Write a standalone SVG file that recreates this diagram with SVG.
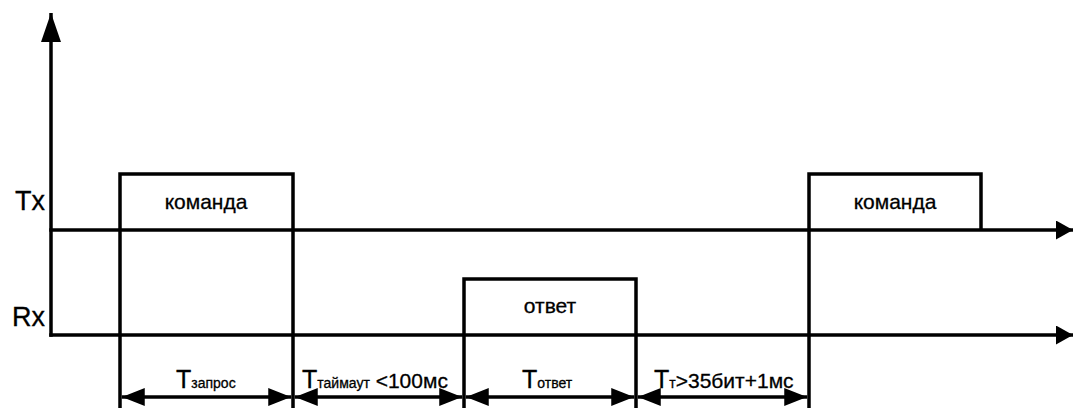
<svg xmlns="http://www.w3.org/2000/svg" width="1073" height="408" viewBox="0 0 1073 408">
  <style>
    .ln { fill: none; stroke: #000; stroke-width: 3.5; stroke-linejoin: miter; stroke-linecap: butt; }
    .t { font-family: "Liberation Sans", Arial, sans-serif; fill: #000; stroke: #000; stroke-width: 0.3; }
    .lbl { font-size: 21px; }
    .axl { font-size: 27px; }
    .big { font-size: 25px; }
    .sub { font-size: 14px; }
  </style>
  <defs>
    <marker id="axArrowV" viewBox="0 0 29 20" refX="29" refY="10" markerWidth="29" markerHeight="20" markerUnits="userSpaceOnUse" orient="auto">
      <path d="M0,0 L29,10 L0,20 Z" fill="#000"/>
    </marker>
    <marker id="axArrowH" viewBox="0 0 17 19" refX="17" refY="9.5" markerWidth="17" markerHeight="19" markerUnits="userSpaceOnUse" orient="auto">
      <path d="M0,0 L17,9.5 L0,19 Z" fill="#000"/>
    </marker>
    <marker id="dimArrow" viewBox="0 0 23 18" refX="23" refY="9" markerWidth="23" markerHeight="18" markerUnits="userSpaceOnUse" orient="auto-start-reverse">
      <path d="M0,0 L23,9 L0,18 Z" fill="#000"/>
    </marker>
  </defs>
  <rect width="1073" height="408" fill="#fff"/>

  <g id="axes">
    <line class="ln" x1="51" y1="336.75" x2="51" y2="13" marker-end="url(#axArrowV)"/>
    <line class="ln" x1="49.25" y1="230" x2="1073" y2="230" marker-end="url(#axArrowH)"/>
    <line class="ln" x1="49.25" y1="335" x2="1073" y2="335" marker-end="url(#axArrowH)"/>
    <text class="t axl" x="45" y="210" text-anchor="end">Tx</text>
    <text class="t axl" x="45" y="326" text-anchor="end">Rx</text>
  </g>

  <g id="tx-command-1">
    <polyline class="ln" points="120,408 120,174 293,174 293,408"/>
    <text class="t lbl" x="206" y="209" text-anchor="middle">команда</text>
  </g>

  <g id="rx-response">
    <polyline class="ln" points="464,408 464,279 636,279 636,408"/>
    <text class="t lbl" x="550" y="313" text-anchor="middle">ответ</text>
  </g>

  <g id="tx-command-2">
    <polyline class="ln" points="809,408 809,174 981,174 981,230"/>
    <text class="t lbl" x="895" y="209" text-anchor="middle">команда</text>
  </g>

  <g id="connectors">
    <line class="ln" x1="121.75" y1="397" x2="291.25" y2="397" marker-start="url(#dimArrow)" marker-end="url(#dimArrow)"/>
    <line class="ln" x1="294.75" y1="397" x2="462.25" y2="397" marker-start="url(#dimArrow)" marker-end="url(#dimArrow)"/>
    <line class="ln" x1="465.75" y1="397" x2="634.25" y2="397" marker-start="url(#dimArrow)" marker-end="url(#dimArrow)"/>
    <line class="ln" x1="637.75" y1="397" x2="807.25" y2="397" marker-start="url(#dimArrow)" marker-end="url(#dimArrow)"/>
  </g>

  <g id="dimension-labels">
    <text class="t" x="176" y="388"><tspan class="big">T</tspan><tspan class="sub">запрос</tspan></text>
    <text class="t" x="302" y="388"><tspan class="big">T</tspan><tspan class="sub">таймаут</tspan><tspan class="lbl"> &lt;100мс</tspan></text>
    <text class="t" x="522" y="388"><tspan class="big">T</tspan><tspan class="sub">ответ</tspan></text>
    <text class="t" x="654" y="388"><tspan class="big">T</tspan><tspan class="sub">т</tspan><tspan class="lbl">&gt;35бит+1мс</tspan></text>
  </g>
</svg>
